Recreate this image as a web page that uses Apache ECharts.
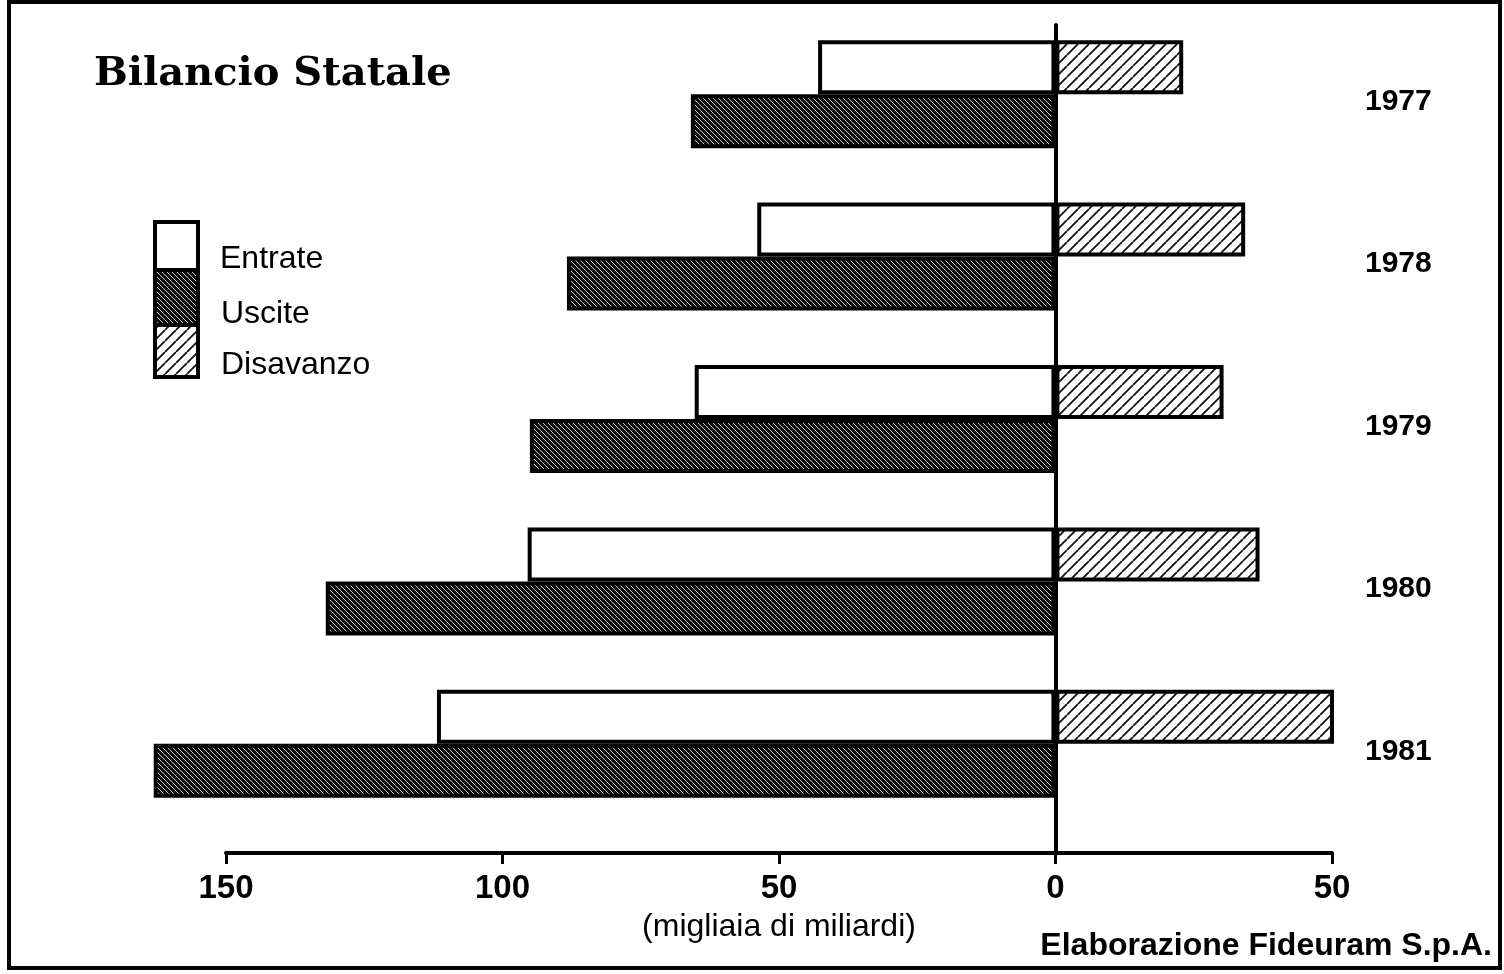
<!DOCTYPE html>
<html><head><meta charset="utf-8">
<script src="https://cdn.jsdelivr.net/npm/echarts@6/dist/echarts.min.js"></script>
<style>html,body{margin:0;padding:0;background:#fff}#c{width:1504px;height:974px}</style>
</head><body><div id="c"></div>
<script>
const years = ['1977', '1978', '1979', '1980', '1981'];
const entrate = [42.9, 53.9, 65.2, 95.4, 111.8];
const uscite = [65.9, 88.3, 95.0, 131.9, 163.0];
const disavanzo = [23.1, 34.3, 30.4, 36.9, 51.4];
const tickValues = [-150, -100, -50, 0, 50];

function makePattern(bg, fg, size, lw, dir) {
  const c = document.createElement('canvas');
  c.width = c.height = size;
  const g = c.getContext('2d');
  g.fillStyle = bg; g.fillRect(0, 0, size, size);
  g.strokeStyle = fg; g.lineWidth = lw;
  g.beginPath();
  for (let k = -1; k <= 2; k++) {
    if (dir === 'back') { g.moveTo(k * size, 0); g.lineTo(k * size + size, size); }
    else { g.moveTo(k * size, 0); g.lineTo(k * size - size, size); }
  }
  g.stroke();
  return { image: c, repeat: 'repeat' };
}
const usciteFill = makePattern('#0a0a0a', '#c8c8c8', 5, 1.0, 'back');
const disFill = makePattern('#fff', '#111', 11, 1.8, 'fwd');

const chart = echarts.init(document.getElementById('c'), null, { renderer: 'canvas' });
const sans = 'Liberation Sans, Arial, sans-serif';
const barBorder = { borderColor: '#000', borderWidth: 4 };

chart.setOption({
  backgroundColor: '#fff',
  animation: false,
  grid: [
    { left: 115, right: 172, top: 13, height: 812 },
    { left: 226, right: 172, top: 25, bottom: 121 }
  ],
  xAxis: [
    { gridIndex: 0, type: 'value', min: -170, max: 50, show: false },
    { gridIndex: 1, type: 'value', min: -150, max: 50, interval: 50,
      axisLine: { show: true, onZero: false, lineStyle: { color: '#000', width: 4 } },
      axisTick: { show: true, length: 11, lineStyle: { color: '#000', width: 3 } },
      splitLine: { show: false },
      axisLabel: { margin: 19, color: '#000', fontFamily: sans, fontWeight: 'bold', fontSize: 33,
        formatter: v => tickValues.includes(v) ? String(Math.abs(v)) : '' },
      name: '(migliaia di miliardi)', nameLocation: 'middle', nameGap: 58,
      nameTextStyle: { color: '#000', fontFamily: sans, fontSize: 32 },
      nameMoveOverlap: false
    }
  ],
  yAxis: [
    { gridIndex: 0, type: 'category', data: years, inverse: true, position: 'right',
      axisLine: { show: false }, axisTick: { show: false }, splitLine: { show: false },
      axisLabel: { margin: 33, color: '#000', fontFamily: sans, fontWeight: 'bold', fontSize: 30,
        formatter: v => '{y|' + v + '}',
        rich: { y: { padding: [15, 0, 0, 0], color: '#000', fontFamily: sans, fontWeight: 'bold', fontSize: 30 } } } },
    { gridIndex: 1, type: 'value', min: 0, max: 1,
      axisLine: { show: true, onZero: true, lineStyle: { color: '#000', width: 4 } },
      axisTick: { show: false }, axisLabel: { show: false }, splitLine: { show: false } }
  ],
  series: [
    { name: 'Entrate', type: 'bar', stack: 'a', xAxisIndex: 0, yAxisIndex: 0,
      barWidth: 54, barGap: '0%',
      data: entrate.map(v => -v), itemStyle: Object.assign({ color: '#fff' }, barBorder) },
    { name: 'Uscite', type: 'bar', stack: 'b', xAxisIndex: 0, yAxisIndex: 0,
      barWidth: 54, barGap: '0%',
      data: uscite.map(v => -v), itemStyle: Object.assign({ color: usciteFill }, barBorder) },
    { name: 'Disavanzo', type: 'bar', stack: 'a', xAxisIndex: 0, yAxisIndex: 0,
      barWidth: 54, barGap: '0%',
      data: disavanzo, itemStyle: Object.assign({ color: disFill }, barBorder) },
    { type: 'line', xAxisIndex: 1, yAxisIndex: 1, data: [], silent: true }
  ],
  graphic: [
    { type: 'rect', shape: { x: 9, y: 2, width: 1491, height: 966 }, style: { fill: 'none', stroke: '#000', lineWidth: 4 }, z: 100 },
    { type: 'text', left: 94, top: 55, style: { text: 'Bilancio Statale', fill: '#000', font: 'bold 40px "DejaVu Serif", serif' } },
    { type: 'rect', shape: { x: 155, y: 222, width: 43, height: 48 }, style: { fill: '#fff', stroke: '#000', lineWidth: 4 } },
    { type: 'rect', shape: { x: 155, y: 270, width: 43, height: 55 }, style: { fill: usciteFill, stroke: '#000', lineWidth: 4 } },
    { type: 'rect', shape: { x: 155, y: 325, width: 43, height: 52 }, style: { fill: disFill, stroke: '#000', lineWidth: 4 } },
    { type: 'text', x: 220, y: 259, style: { text: 'Entrate', fill: '#000', font: '32px ' + sans, textVerticalAlign: 'middle' } },
    { type: 'text', x: 221, y: 314, style: { text: 'Uscite', fill: '#000', font: '32px ' + sans, textVerticalAlign: 'middle' } },
    { type: 'text', x: 221, y: 365, style: { text: 'Disavanzo', fill: '#000', font: '32px ' + sans, textVerticalAlign: 'middle' } },
    { type: 'text', x: 1492, y: 946, style: { text: 'Elaborazione Fideuram S.p.A.', fill: '#000', font: 'bold 32px ' + sans, textAlign: 'right', textVerticalAlign: 'middle' } }
  ]
});
</script></body></html>
